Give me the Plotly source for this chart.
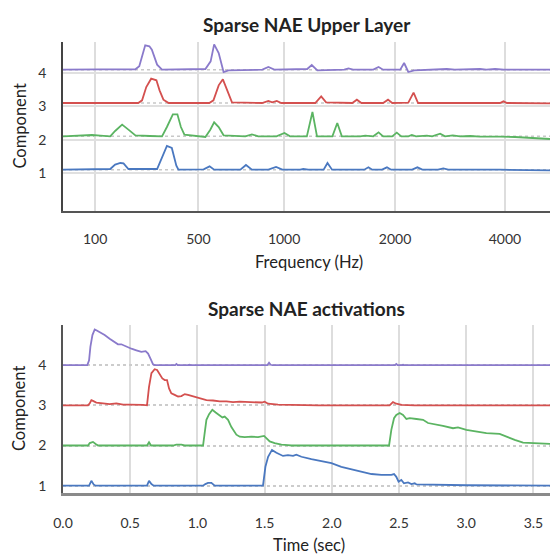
import plotly.graph_objects as go

# ---------------- data: upper layer spectral templates ----------------
# x = filterbank channel index, value = relative amplitude above each component's baseline
freq_tick_labels = ["100", "500", "1000", "2000", "4000"]
freq_tick_channels = [9.2, 38.7, 63.2, 94.9, 126.3]

upper_comp4 = [(0, 0), (7.8, 0.01), (8.7, 0.02), (10.7, 0.01), (20.7, 0.01), (21.8, 0.1), (23.5, 0.73),
               (24.7, 0.70), (25.4, 0.6), (26.9, 0.15), (28.3, 0), (35, 0.01), (40.7, 0.02), (42.2, 0.25),
               (43.2, 0.76), (44.5, 0.5), (45.9, -0.07), (47.3, -0.02), (57.0, 0), (58.7, 0.08), (60.4, 0),
               (69.8, 0.02), (71.1, 0.14), (72.7, -0.02), (76.4, 0), (80.4, 0), (81.6, 0.04), (82.9, 0),
               (88.7, 0), (90.2, 0.08), (91.5, 0), (96.4, 0), (97.5, 0.2), (98.7, -0.07), (100.4, -0.02),
               (105, 0), (109.7, 0.02), (112, 0), (119.2, 0.02), (121, 0), (123.5, 0.02), (126, 0), (139.2, 0)]

upper_comp3 = [(0, 0), (21.5, 0), (22.6, 0.08), (23.8, 0.48), (25.2, 0.73), (26.7, 0.68), (27.6, 0.38),
               (28.7, 0.1), (30.2, 0), (36.4, 0.01), (41.8, 0), (43.0, 0.08), (44.5, 0.53), (45.7, 0.71),
               (46.9, 0.38), (48.3, 0.02), (56.9, 0), (58.7, 0.06), (59.8, 0.02), (61.1, 0.06), (62.4, 0),
               (72.1, 0), (73.8, 0.2), (75.2, 0.02), (82.7, 0), (84.0, 0.1), (85.3, 0), (91.5, 0),
               (92.9, 0.1), (94.1, 0), (98.7, 0.01), (100.2, 0.31), (101.5, 0), (107.8, 0), (109.2, 0.02),
               (113.5, 0.01), (124.9, 0), (125.9, 0.05), (126.9, 0), (139.2, -0.01)]

upper_comp2 = [(0, 0), (3.5, 0.01), (8.3, 0.04), (10.7, 0.02), (13.5, 0), (14.9, 0.16), (16.9, 0.35),
               (18.7, 0.2), (20.7, 0.03), (24.9, 0.01), (28.3, 0), (29.7, 0.28), (31.4, 0.66), (32.7, 0.66),
               (33.7, 0.28), (34.7, 0.05), (40.7, -0.02), (42.1, 0.2), (43.2, 0.42), (44.5, 0.28),
               (45.9, 0.03), (52.1, 0), (54.0, 0.06), (55.8, 0), (61.0, 0), (63.3, 0.1), (64.9, 0),
               (69.7, 0), (71.3, 0.73), (72.6, 0), (77.0, 0), (78.4, 0.4), (79.7, 0), (84.9, 0),
               (86.4, 0.02), (88.7, 0), (90.2, 0.12), (91.5, 0), (94.1, 0), (95.4, 0.11), (96.7, 0),
               (98.7, 0), (99.7, 0.04), (100.9, 0), (104.0, 0.02), (105.5, 0), (107.8, 0.08), (109.2, 0),
               (111.4, 0.03), (113.5, 0), (116.4, 0.01), (119.2, -0.01), (122.1, 0), (124.9, -0.01),
               (129.2, -0.02), (133.5, -0.04), (136.4, -0.07), (139.2, -0.08)]

upper_comp1 = [(0, 0), (13.5, 0.02), (14.9, 0.15), (16.4, 0.2), (17.3, 0.19), (18.7, 0.02), (26.9, 0.02),
               (28.3, 0.37), (29.7, 0.71), (31.1, 0.65), (32.4, 0.12), (33.0, 0), (40.2, 0.01), (41.9, 0.1),
               (43.2, 0), (50.7, 0), (52.3, 0.14), (54.0, 0), (58.7, 0), (60.9, 0.08), (62.7, 0), (67.8, 0),
               (68.7, 0.02), (70.1, 0), (74.5, 0), (75.6, 0.2), (76.9, 0), (86.1, 0), (87.3, 0.07),
               (88.4, 0), (91.2, 0), (92.6, 0.07), (93.8, 0), (99.8, 0), (101.3, 0.07), (102.7, 0),
               (107.2, 0), (108.7, 0.04), (110.1, 0), (124.9, 0), (139.2, -0.02)]

# ---------------- data: activations over time ----------------
act_comp4 = [(0, 0), (0.181, 0), (0.194, 0.12), (0.204, 0.46), (0.219, 0.75), (0.236, 0.89), (0.248, 0.87),
             (0.273, 0.83), (0.310, 0.75), (0.347, 0.66), (0.385, 0.58), (0.409, 0.52), (0.434, 0.52),
             (0.472, 0.46), (0.509, 0.41), (0.546, 0.37), (0.583, 0.33), (0.615, 0.35), (0.633, 0.29),
             (0.650, 0.17), (0.670, 0.02), (0.682, 0), (0.835, 0), (0.844, 0.03), (0.853, 0), (0.93, 0),
             (0.94, 0.01), (0.95, 0), (1.10, 0), (1.105, 0.01), (1.11, 0), (1.52, 0), (1.533, 0.06),
             (1.545, 0.01), (1.56, 0), (2.47, 0), (2.48, 0.03), (2.49, 0), (2.52, 0), (2.53, 0.01),
             (2.54, 0), (3.63, 0)]

act_comp3 = [(0, 0), (0.186, 0), (0.199, 0.05), (0.211, 0.13), (0.223, 0.11), (0.248, 0.07), (0.298, 0.05),
             (0.347, 0.03), (0.397, 0.05), (0.447, 0.02), (0.496, 0.02), (0.546, 0.02), (0.595, 0.01),
             (0.625, 0), (0.640, 0.46), (0.658, 0.80), (0.682, 0.90), (0.700, 0.88), (0.720, 0.78),
             (0.739, 0.67), (0.757, 0.63), (0.774, 0.63), (0.789, 0.42), (0.806, 0.30), (0.831, 0.26),
             (0.856, 0.22), (0.881, 0.23), (0.906, 0.28), (0.930, 0.26), (0.967, 0.22), (1.017, 0.17),
             (1.067, 0.13), (1.116, 0.12), (1.166, 0.10), (1.216, 0.10), (1.265, 0.08), (1.315, 0.09),
             (1.36, 0.08), (1.426, 0.07), (1.48, 0.07), (1.500, 0.09), (1.526, 0.04), (1.60, 0.02),
             (1.724, 0.01), (1.90, 0), (2.43, 0), (2.455, 0.08), (2.48, 0.04), (2.52, 0.01), (2.617, 0),
             (3.63, 0)]

act_comp2 = [(0, 0), (0.186, 0), (0.199, 0.06), (0.223, 0.09), (0.243, 0.04), (0.261, 0), (0.625, 0),
             (0.640, 0.08), (0.655, 0), (0.819, 0), (0.843, 0.02), (0.881, 0.02), (0.906, 0), (1.042, 0),
             (1.054, 0.31), (1.067, 0.64), (1.087, 0.78), (1.111, 0.89), (1.136, 0.82), (1.161, 0.76),
             (1.186, 0.70), (1.203, 0.72), (1.228, 0.64), (1.253, 0.46), (1.278, 0.33), (1.29, 0.27),
             (1.315, 0.22), (1.352, 0.21), (1.402, 0.22), (1.451, 0.21), (1.496, 0.24), (1.513, 0.19),
             (1.538, 0.10), (1.575, 0.06), (1.625, 0.02), (1.674, 0.01), (1.70, 0), (2.426, 0),
             (2.443, 0.39), (2.463, 0.68), (2.480, 0.76), (2.505, 0.81), (2.53, 0.76), (2.555, 0.66),
             (2.58, 0.68), (2.63, 0.66), (2.679, 0.64), (2.716, 0.56), (2.753, 0.54), (2.827, 0.49),
             (2.902, 0.43), (2.939, 0.45), (3.001, 0.39), (3.076, 0.35), (3.150, 0.31), (3.249, 0.29),
             (3.299, 0.22), (3.361, 0.14), (3.423, 0.07), (3.498, 0.06), (3.597, 0.04), (3.63, 0.04)]

act_comp1 = [(0, 0), (0.194, 0), (0.211, 0.12), (0.228, 0.03), (0.243, 0), (0.625, 0), (0.640, 0.12),
             (0.658, 0.04), (0.675, 0), (1.042, 0), (1.059, 0.04), (1.079, 0.07), (1.104, 0.07),
             (1.129, 0), (1.488, 0), (1.506, 0.47), (1.526, 0.72), (1.555, 0.89), (1.588, 0.82),
             (1.637, 0.74), (1.674, 0.76), (1.712, 0.74), (1.736, 0.77), (1.774, 0.72), (1.848, 0.66),
             (1.922, 0.61), (1.997, 0.56), (2.071, 0.47), (2.146, 0.41), (2.220, 0.35), (2.295, 0.29),
             (2.369, 0.27), (2.443, 0.27), (2.463, 0.29), (2.480, 0.22), (2.497, 0.10), (2.517, 0.14),
             (2.537, 0.06), (2.567, 0.08), (2.592, 0.04), (2.617, 0.06), (2.63, 0.03), (2.753, 0.02),
             (3.001, 0.01), (3.63, 0)]

time_ticks = [0.0, 0.5, 1.0, 1.5, 2.0, 2.5, 3.0, 3.5]
components = [1, 2, 3, 4]

# ---------------- styling ----------------
colors = {1: "#4a78c0", 2: "#5bb462", 3: "#d4504f", 4: "#8a7acb"}
W, H = 550, 554
FONT = "Lato"
upper_offset = 0.1  # upper-layer traces sit slightly above their gridline

fig = go.Figure()

upper = {1: upper_comp1, 2: upper_comp2, 3: upper_comp3, 4: upper_comp4}
act = {1: act_comp1, 2: act_comp2, 3: act_comp3, 4: act_comp4}

for c in components:
    xs = [p[0] for p in upper[c]]
    ys = [c + upper_offset + p[1] for p in upper[c]]
    fig.add_trace(go.Scatter(x=xs, y=ys, mode="lines", line=dict(color=colors[c], width=1.8),
                             xaxis="x", yaxis="y", showlegend=False, hoverinfo="skip"))
for c in components:
    xs = [p[0] for p in act[c]]
    ys = [c + p[1] for p in act[c]]
    fig.add_trace(go.Scatter(x=xs, y=ys, mode="lines", line=dict(color=colors[c], width=1.8),
                             xaxis="x2", yaxis="y2", showlegend=False, hoverinfo="skip"))

def py(px):
    return 1 - px / H

top_dom = [py(211), py(42)]
bot_dom = [py(493.3), py(325)]

tickfont = dict(family=FONT, size=14, color="#333333")

shapes = []
for c in components:
    shapes.append(dict(type="line", xref="x", yref="y", x0=0, x1=139.2,
                       y0=c + upper_offset, y1=c + upper_offset, layer="below",
                       line=dict(color="#c8c8c8", width=1.5, dash="dot")))

fig.update_layout(
    width=W, height=H,
    margin=dict(l=63, r=0, t=0, b=0),
    plot_bgcolor="white", paper_bgcolor="white",
    font=dict(family=FONT, color="#222222"),
    shapes=shapes,
    xaxis=dict(domain=[0, 1], range=[0, 139.2], anchor="y",
               tickvals=freq_tick_channels, ticktext=freq_tick_labels,
               showgrid=True, gridcolor="#dddddd", gridwidth=1.5,
               showline=True, linecolor="#555555", linewidth=2, zeroline=False,
               ticks="", ticklabelstandoff=14, tickfont=tickfont),
    yaxis=dict(domain=top_dom, range=[-0.14, 4.93], anchor="x",
               tickvals=components, ticktext=[str(c) for c in components],
               showgrid=True, gridcolor="#e0e0e0", gridwidth=2,
               showline=True, linecolor="#444444", linewidth=1.5, zeroline=False,
               ticks="", ticklabelstandoff=12, tickfont=tickfont),
    xaxis2=dict(domain=[0, 1], range=[0, 3.6235], anchor="y2",
                tickvals=time_ticks, tickformat=".1f",
                showgrid=True, gridcolor="#dddddd", gridwidth=1.5,
                showline=True, linecolor="#8a8a8a", linewidth=2.5, zeroline=False,
                ticks="", ticklabelstandoff=15, tickfont=tickfont),
    yaxis2=dict(domain=bot_dom, range=[0.81, 5.0], anchor="x2",
                tickvals=components, ticktext=[str(c) for c in components],
                showgrid=True, gridcolor="#cccccc", gridwidth=1.5, griddash="dot",
                showline=True, linecolor="#555555", linewidth=1.5, zeroline=False,
                ticks="", ticklabelstandoff=12, tickfont=tickfont),
)

anns = [
    dict(text="<b>Sparse NAE Upper Layer</b>", x=306.5, y=25, size=19),
    dict(text="<b>Sparse NAE activations</b>", x=306.5, y=308, size=19),
    dict(text="Frequency (Hz)", x=309, y=262, size=16.5),
    dict(text="Time (sec)", x=309, y=545, size=16.5),
]
annotations = []
for a in anns:
    annotations.append(dict(text=a["text"], xref="paper", yref="paper",
                            x=(a["x"] - 63) / (W - 63), y=py(a["y"]),
                            xanchor="center", yanchor="middle", showarrow=False,
                            font=dict(family=FONT, size=a["size"], color="#222222")))
for yc in [126.5, 409]:
    annotations.append(dict(text="Component", xref="paper", yref="paper",
                            x=(19 - 63) / (W - 63), y=py(yc), textangle=-90,
                            xanchor="center", yanchor="middle", showarrow=False,
                            font=dict(family=FONT, size=16.5, color="#222222")))
fig.update_layout(annotations=annotations)

fig.write_html("out.html")
